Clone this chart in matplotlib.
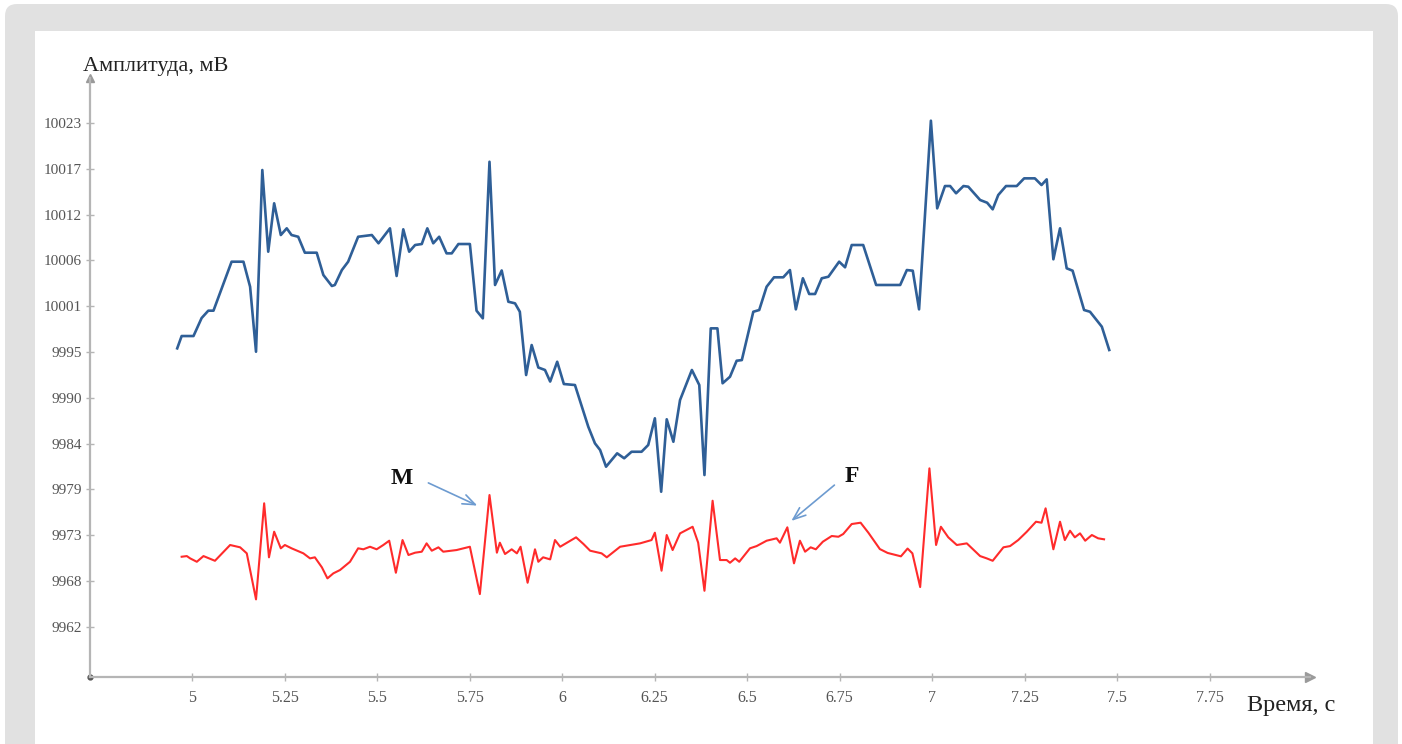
import matplotlib
matplotlib.use("Agg")
import matplotlib.pyplot as plt
import numpy as np
from matplotlib.patches import FancyBboxPatch, Rectangle

# ---------------- data ----------------
blue_t = [4.960, 4.972, 5.004, 5.026, 5.044, 5.058, 5.107, 5.139, 5.157, 5.173,
          5.190, 5.206, 5.222, 5.240, 5.256, 5.269, 5.287, 5.305, 5.337, 5.355,
          5.378, 5.386, 5.405, 5.422, 5.449, 5.486, 5.504, 5.535, 5.553, 5.571,
          5.587, 5.603, 5.621, 5.636, 5.652, 5.668, 5.688, 5.702, 5.720, 5.751,
          5.769, 5.786, 5.804, 5.819, 5.837, 5.855, 5.873, 5.886, 5.903, 5.918,
          5.936, 5.954, 5.968, 5.987, 6.005, 6.035, 6.071, 6.089, 6.103, 6.119,
          6.149, 6.168, 6.188, 6.215, 6.233, 6.251, 6.268, 6.283, 6.301, 6.319,
          6.351, 6.371, 6.385, 6.402, 6.420, 6.434, 6.454, 6.472, 6.486, 6.517,
          6.533, 6.553, 6.573, 6.598, 6.616, 6.632, 6.651, 6.668, 6.684, 6.702,
          6.720, 6.749, 6.765, 6.783, 6.814, 6.849, 6.914, 6.932, 6.948, 6.965,
          6.997, 7.014, 7.035, 7.049, 7.065, 7.085, 7.098, 7.130, 7.149, 7.164,
          7.179, 7.200, 7.229, 7.249, 7.278, 7.296, 7.310, 7.328, 7.346, 7.364,
          7.380, 7.411, 7.427, 7.459, 7.479]
blue_v = [9995.72, 9997.21, 9997.21, 9999.39, 10000.28, 10000.28, 10006.21, 10006.21, 10003.18, 9995.31,
          10017.31, 10007.42, 10013.28, 10009.44, 10010.25, 10009.44, 10009.23, 10007.30, 10007.30, 10004.60,
          10003.27, 10003.39, 10005.20, 10006.21, 10009.23, 10009.44, 10008.44, 10010.25, 10004.48, 10010.13,
          10007.42, 10008.23, 10008.35, 10010.25, 10008.44, 10009.23, 10007.22, 10007.22, 10008.35, 10008.35,
          10000.28, 9999.35, 10018.31, 10003.39, 10005.15, 10001.36, 10001.17, 10000.15, 9992.49, 9996.12,
          9993.40, 9993.10, 9991.70, 9994.10, 9991.40, 9991.28, 9986.23, 9984.22, 9983.41, 9981.39,
          9983.01, 9982.41, 9983.20, 9983.20, 9984.02, 9987.25, 9978.36, 9987.13, 9984.41, 9989.46,
          9993.10, 9991.28, 9980.38, 9998.14, 9998.14, 9991.49, 9992.28, 9994.22, 9994.30, 10000.15,
          10000.36, 10003.18, 10004.32, 10004.32, 10005.20, 10000.44, 10004.20, 10002.30, 10002.30, 10004.20,
          10004.39, 10006.21, 10005.53, 10008.23, 10008.23, 10003.39, 10003.39, 10005.20, 10005.12, 10000.44,
          10023.28, 10012.67, 10015.37, 10015.37, 10014.49, 10015.37, 10015.29, 10013.68, 10013.35, 10012.55,
          10014.28, 10015.37, 10015.37, 10016.30, 10016.30, 10015.49, 10016.18, 10006.50, 10010.25, 10005.41,
          10005.12, 10000.36, 10000.15, 9998.34, 9995.52]

red_t = [4.972, 4.986, 4.995, 5.013, 5.031, 5.062, 5.103, 5.130, 5.148, 5.173,
         5.195, 5.208, 5.222, 5.240, 5.251, 5.269, 5.301, 5.319, 5.332, 5.351,
         5.366, 5.382, 5.400, 5.427, 5.449, 5.463, 5.481, 5.499, 5.517, 5.533,
         5.551, 5.569, 5.585, 5.603, 5.621, 5.634, 5.648, 5.666, 5.679, 5.715,
         5.751, 5.778, 5.804, 5.824, 5.832, 5.846, 5.864, 5.878, 5.888, 5.907,
         5.927, 5.936, 5.949, 5.968, 5.981, 5.995, 6.038, 6.058, 6.076, 6.107,
         6.121, 6.157, 6.184, 6.211, 6.242, 6.251, 6.269, 6.283, 6.299, 6.319,
         6.353, 6.368, 6.385, 6.407, 6.427, 6.445, 6.454, 6.468, 6.479, 6.508,
         6.526, 6.553, 6.580, 6.589, 6.609, 6.627, 6.643, 6.657, 6.672, 6.686,
         6.705, 6.729, 6.747, 6.760, 6.783, 6.807, 6.828, 6.859, 6.880, 6.916,
         6.934, 6.947, 6.968, 6.993, 7.011, 7.024, 7.044, 7.067, 7.094, 7.130,
         7.148, 7.164, 7.193, 7.211, 7.233, 7.256, 7.281, 7.296, 7.307, 7.328,
         7.346, 7.359, 7.373, 7.386, 7.400, 7.414, 7.432, 7.449, 7.465]
red_v = [9970.49, 9970.57, 9970.29, 9969.88, 9970.57, 9970.00, 9971.91, 9971.63, 9970.90, 9965.33,
         9976.96, 9970.42, 9973.52, 9971.51, 9971.91, 9971.51, 9970.90, 9970.29, 9970.42, 9969.21,
         9967.87, 9968.48, 9968.88, 9969.88, 9971.51, 9971.39, 9971.70, 9971.39, 9971.91, 9972.43,
         9968.55, 9972.51, 9970.70, 9970.98, 9971.10, 9972.11, 9971.22, 9971.63, 9971.10, 9971.30,
         9971.70, 9965.97, 9977.96, 9970.98, 9972.19, 9970.82, 9971.39, 9970.90, 9971.70, 9967.34,
         9971.39, 9969.88, 9970.42, 9970.17, 9972.51, 9971.70, 9972.84, 9972.03, 9971.22, 9970.90,
         9970.42, 9971.70, 9971.91, 9972.11, 9972.51, 9973.40, 9968.80, 9973.12, 9971.30, 9973.32,
         9974.12, 9972.19, 9966.37, 9977.27, 9970.09, 9970.09, 9969.76, 9970.29, 9969.88, 9971.51,
         9971.78, 9972.43, 9972.72, 9972.19, 9974.05, 9969.69, 9972.43, 9971.10, 9971.63, 9971.39,
         9972.31, 9973.00, 9972.91, 9973.24, 9974.45, 9974.61, 9973.40, 9971.42, 9970.95, 9970.54,
         9971.48, 9970.90, 9966.82, 9981.19, 9971.91, 9974.12, 9972.84, 9971.91, 9972.11, 9970.57,
         9970.29, 9970.00, 9971.63, 9971.78, 9972.51, 9973.51, 9974.73, 9974.61, 9976.35, 9971.39,
         9974.73, 9972.51, 9973.64, 9972.84, 9973.32, 9972.43, 9973.12, 9972.72, 9972.60]

x_ticks = [5, 5.25, 5.5, 5.75, 6, 6.25, 6.5, 6.75, 7, 7.25, 7.5, 7.75]
x_tick_labels = ["5", "5.25", "5.5", "5.75", "6", "6.25", "6.5", "6.75", "7", "7.25", "7.5", "7.75"]
y_ticks = list(np.linspace(9962, 10023, 12))
y_tick_labels = ["9962", "9968", "9973", "9979", "9984", "9990", "9995", "10001",
                 "10006", "10012", "10017", "10023"]

y_label = "Амплитуда, мВ"
x_label = "Время, с"
annot_M = ("M", (5.567, 9979.98), (5.632, 9979.57), (5.778, 9976.54))
annot_F = ("F", (6.783, 9980.18), (6.742, 9979.38), (6.614, 9974.61))

# ---------------- figure ----------------
W, H = 1402, 744
fig = plt.figure(figsize=(W / 100, H / 100), dpi=100)
fig.patch.set_facecolor("white")

# background frame (display pixel coordinates)
frame = FancyBboxPatch((5, -40), 1393, 744 - 4 + 40, boxstyle="round,pad=0,rounding_size=12",
                       transform=None, facecolor="#e1e1e1", edgecolor="none", zorder=-10)
fig.patches.append(frame)
inner = Rectangle((35, -20), 1373 - 35, 744 - 31 + 20, transform=None,
                  facecolor="white", edgecolor="none", zorder=-9)
fig.patches.append(inner)

ax_left, ax_right = 90, 1310
ax_bottom, ax_top = 744 - 677, 744 - 78
ax = fig.add_axes([ax_left / W, ax_bottom / H, (ax_right - ax_left) / W, (ax_top - ax_bottom) / H])
ax.set_facecolor("none")

ax.set_xlim(4.7243, 8.0216)
ax.set_ylim(9955.93, 10028.45)

axis_col = "#b5b5b5"
for s in ["top", "right"]:
    ax.spines[s].set_visible(False)
for s in ["left", "bottom"]:
    ax.spines[s].set_color(axis_col)
    ax.spines[s].set_linewidth(1.6)

ax.plot([1], [0], marker=">", color="#9a9a9a", markersize=7, transform=ax.transAxes, clip_on=False)
ax.plot([0], [1], marker="^", color="#9a9a9a", markersize=6, transform=ax.transAxes, clip_on=False)
ax.plot([0], [0], marker="o", color="#555555", markersize=3.5, transform=ax.transAxes, clip_on=False)

serif = ["Liberation Serif", "DejaVu Serif"]
ax.set_xticks(x_ticks)
ax.set_xticklabels(x_tick_labels, family=serif, fontsize=11.5, color="#555555")
ax.set_yticks(y_ticks)
ax.set_yticklabels(y_tick_labels, family=serif, fontsize=11, color="#555555")
ax.tick_params(axis="x", direction="inout", length=6, width=1, color=axis_col, pad=6)
ax.tick_params(axis="y", direction="inout", length=6, width=1, color=axis_col, pad=3)

ax.plot(blue_t, blue_v, color="#2f5f97", linewidth=1.9, solid_joinstyle="round")
ax.plot(red_t, red_v, color="#ff2b2b", linewidth=1.5, solid_joinstyle="round")

for lab, txt_xy, start_xy, end_xy in (annot_M, annot_F):
    ax.text(txt_xy[0], txt_xy[1], lab, family=serif, fontsize=17, fontweight="bold",
            ha="center", va="center", color="#111111")
    ax.annotate("", xy=end_xy, xytext=start_xy,
                arrowprops=dict(arrowstyle="->,head_length=0.9,head_width=0.35",
                                color="#6d9bd0", lw=1.2))

fig.text(83 / W, 1 - 67 / H, y_label, family=serif, fontsize=16, color="#222222",
         ha="left", va="center")
fig.text(1291 / W, 1 - 705 / H, x_label, family=serif, fontsize=17.5, color="#222222",
         ha="center", va="center")

fig.savefig("out.png", dpi=100)
